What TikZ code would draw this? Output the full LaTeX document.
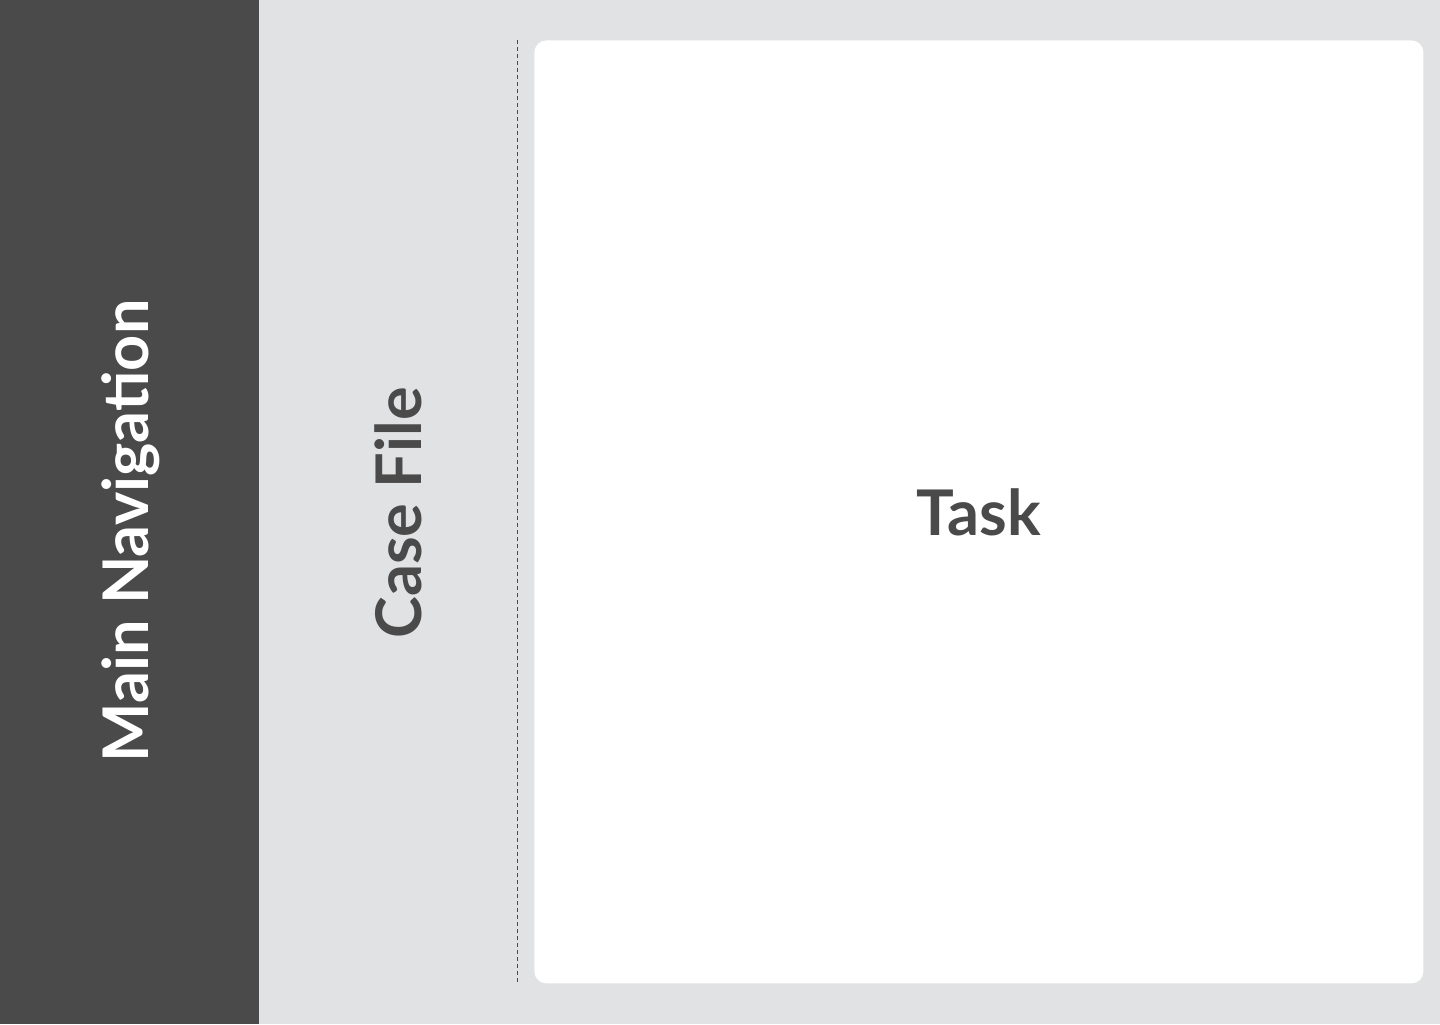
\documentclass[tikz,border=0pt]{standalone}
\usepackage{fontspec}
\setmainfont{Lato}
\usetikzlibrary{positioning}
\definecolor{navgray}{HTML}{4A4A4A}
\definecolor{panelgray}{HTML}{E1E2E4}

\begin{document}
\begin{tikzpicture}[x=0.5pt,y=-0.5pt]
		\tikzstyle{pane}=[rectangle,draw=none,inner sep=0pt,anchor=north west]
		\tikzstyle{title}=[font=\bfseries\fontsize{31.5}{32}\selectfont,text=navgray]
		\tikzstyle{side title}=[title,rotate=90]

		% Draw the background
		\fill[panelgray] (0,0) rectangle (1440,1024);
		\useasboundingbox (0,0) rectangle (1440,1024);

		% Draw the main navigation bar
		\node[pane,fill=navgray,minimum width=129.5pt,minimum height=512pt] (nav) at (0,0) {};
		\node[side title,text=white] (nav-label) at (131,531) {Main Navigation};

		% Draw the case file panel
		\node[side title] (case-label) at (398,513) {Case File};

		% Draw the task card
		\node[pane,fill=white,rounded corners=6pt,minimum width=444.5pt,minimum height=471.5pt] (task) at (534,40) {};
		\node[title] (task-label) at (task.center) {Task};

		% Divider between case file and task
		\coordinate (div-top) at (517,40);
		\coordinate (div-bottom) at (517,983);
		\draw[navgray,line width=0.5pt,dash pattern=on 2pt off 1.5pt] (div-top) -- (div-bottom);
\end{tikzpicture}
\end{document}
